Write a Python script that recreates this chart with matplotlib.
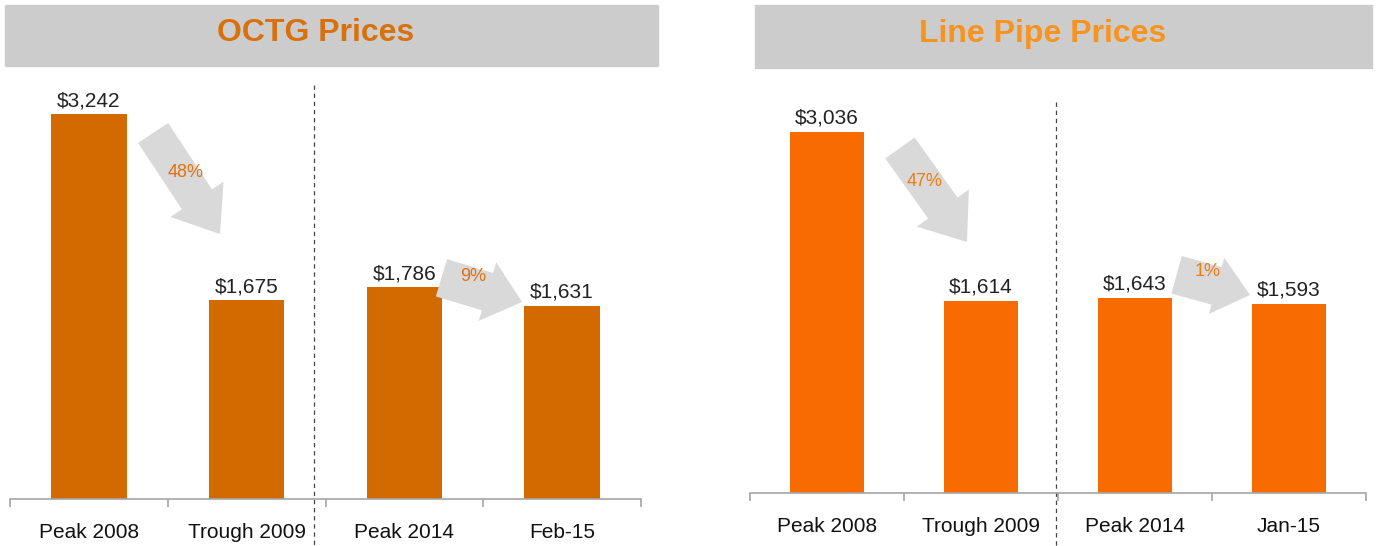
import matplotlib.pyplot as plt
import matplotlib.patches as mpatches

plt.rcParams['font.family'] = ['Liberation Sans', 'DejaVu Sans']

# dati
categorie_octg = ['Peak 2008', 'Trough 2009', 'Peak 2014', 'Feb-15']
prezzi_octg = [3242, 1675, 1786, 1631]
calo_octg = ['48%', '9%']

categorie_lp = ['Peak 2008', 'Trough 2009', 'Peak 2014', 'Jan-15']
prezzi_lp = [3036, 1614, 1643, 1593]
calo_lp = ['47%', '1%']

W, H = 1376, 546
fig = plt.figure(figsize=(W / 100, H / 100), dpi=100)
fig.patch.set_facecolor('white')


def px_box(x0, y0, x1, y1):
    # pixel (dall'alto) -> frazioni figura
    return [x0 / W, 1 - y1 / H, (x1 - x0) / W, (y1 - y0) / H]


def pannello(rect, ymax, cat, val, col_bar, col_txt, cali, frecce, lab_pos, sep, sep_top):
    ax = fig.add_axes(rect)
    x = range(len(cat))
    ax.bar(x, val, width=0.48, color=col_bar)
    for i, v in enumerate(val):
        ax.annotate('${:,}'.format(v), (i, v), xytext=(0, 3), textcoords='offset points',
                    ha='center', va='bottom', fontsize=15, color='#222222')
    ax.set_xlim(-0.5, len(cat) - 0.5)
    ax.set_ylim(0, ymax)
    ax.set_xticks(list(x))
    ax.set_xticklabels(cat, fontsize=15, color='#111111')
    ax.set_xticks([i - 0.5 for i in range(len(cat) + 1)], minor=True)
    ax.tick_params(axis='x', which='major', length=0, pad=17)
    ax.tick_params(axis='x', which='minor', length=6, color='#a6a6a6', width=1.2)
    ax.set_yticks([])
    for s in ['left', 'right', 'top']:
        ax.spines[s].set_visible(False)
    ax.spines['bottom'].set_color('#a6a6a6')
    ax.spines['bottom'].set_linewidth(1.2)
    ax.set_facecolor('none')
    # linea tratteggiata di separazione
    ax.plot([sep, sep], [sep_top, -ymax * 0.13], ls=(0, (3.5, 3)), color='#444444',
            lw=0.9, clip_on=False)
    # frecce grigie
    for (a, b, hl, hw, tw), txt, lp in zip(frecce, cali, lab_pos):
        ax.annotate('', xy=b, xytext=a,
                    arrowprops=dict(arrowstyle='simple,head_length=%s,head_width=%s,tail_width=%s' % (hl, hw, tw),
                                    mutation_scale=10, color='#d9d9d9', ec='none',
                                    shrinkA=0, shrinkB=0))
        ax.text(lp[0], lp[1], txt, ha='center', va='center', fontsize=13, color=col_txt)
    return ax


# pannello sinistro
fig.patches.append(mpatches.Rectangle(px_box(5, 5, 658, 66)[:2], 653 / W, 61 / H,
                                      transform=fig.transFigure, color='#cccccc', zorder=0))
fig.text(316 / W, 1 - 33 / H, 'OCTG Prices', ha='center', va='center', fontsize=23,
         fontweight='bold', color='#d8700c')
pannello(px_box(10, 80, 641, 499), 419 / 0.1186, categorie_octg, prezzi_octg,
         '#d26a00', '#e07010', calo_octg,
         [((0.407, 3086), (0.831, 2234), 3.0, 4.6, 2.6),
          ((2.235, 1865), (2.746, 1661), 2.6, 4.4, 2.8)],
         [(0.616, 2757), (2.435, 1872)], 1.427, 3491)

# pannello destro
fig.patches.append(mpatches.Rectangle(px_box(755, 5, 1372, 68)[:2], 617 / W, 63 / H,
                                      transform=fig.transFigure, color='#cccccc', zorder=0))
fig.text(1043 / W, 1 - 34 / H, 'Line Pipe Prices', ha='center', va='center', fontsize=23,
         fontweight='bold', color='#f7931e')
pannello(px_box(750, 80, 1366, 493), 413 / 0.1189, categorie_lp, prezzi_lp,
         '#f76b00', '#f57a10', calo_lp,
         [((0.474, 2902), (0.909, 2111), 3.0, 4.6, 2.6),
          ((2.27, 1835), (2.747, 1665), 2.5, 4.2, 2.8)],
         [(0.636, 2616), (2.474, 1859)], 1.49, 3290)

fig.savefig('out.png', dpi=100)
